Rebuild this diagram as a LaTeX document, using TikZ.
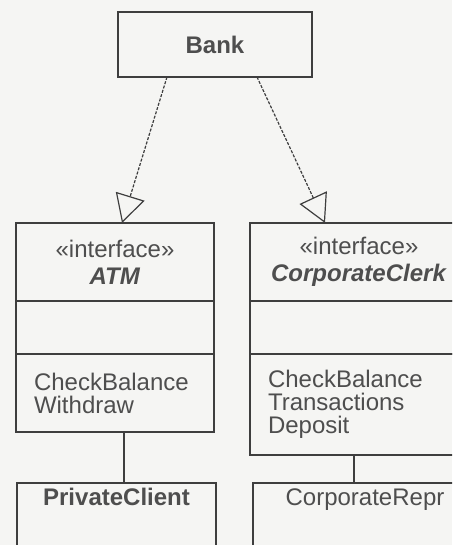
\documentclass[tikz,border=0pt]{standalone}
\usepackage{fontspec}
\setmainfont{Liberation Sans}
\usepackage{tikz}
\usetikzlibrary{arrows.meta,positioning}

\definecolor{paper}{RGB}{245,245,243}
\definecolor{ink}{RGB}{62,62,62}
\definecolor{txt}{RGB}{78,78,78}

\tikzset{
  classbox/.style={draw=ink, line width=1.3pt, rectangle, outer sep=0pt, inner sep=0pt,
    text=txt, font=\fontsize{24}{23}\selectfont},
  header/.style={classbox, minimum height=78pt, align=center,
    font=\fontsize{24}{27}\selectfont},
  attrs/.style={classbox, minimum height=53pt},
  ops/.style={classbox, align=left, inner xsep=18pt},
  realize/.style={draw=ink, line width=1.2pt, dash pattern=on 3pt off 1.5pt,
    -{Triangle[open, length=28pt, width=30pt, line width=1.2pt]}},
  assoc/.style={draw=ink, line width=1.3pt}
}

\begin{document}
\begin{tikzpicture}[x=1pt,y=-1pt]
  \fill[paper] (0,0) rectangle (452,545);
  \clip (0,0) rectangle (452,545);

  % supplier
  \node[classbox, minimum width=194pt, minimum height=65pt, font=\fontsize{24}{23}\selectfont\bfseries] (bank) at (215,44.5) {Bank};

  % interfaces
  \node[header, minimum width=198pt] (atm) at (115,262) {«interface»\\\textbf{\textit{ATM}}};
  \node[attrs, minimum width=198pt, below=0pt of atm] (atmAttr) {};
  \node[ops, text width=162pt, minimum height=78pt, below=0pt of atmAttr] (atmOps) {CheckBalance\\Withdraw};

  \node[header, minimum width=218pt] (clerk) at (359,262) {«interface»\\\textbf{\textit{CorporateClerk}}};
  \node[attrs, minimum width=218pt, below=0pt of clerk] (clerkAttr) {};
  \node[ops, text width=182pt, minimum height=101pt, below=0pt of clerkAttr] (clerkOps) {CheckBalance\\Transactions\\Deposit};

  % clients
  \node[classbox, anchor=north, minimum width=199pt, text height=22pt, text depth=60pt, font=\fontsize{24}{23}\selectfont\bfseries] (privClient) at (116.5,483) {PrivateClient};
  \node[classbox, anchor=north, minimum width=224pt, text height=22pt, text depth=60pt] (corpRepr) at (365,483) {CorporateRepr};

  \draw[realize] ([xshift=-48pt]bank.south) -- ([xshift=7pt]atm.north);
  \draw[realize] ([xshift=42pt]bank.south) -- ([xshift=-34pt]clerk.north);

  \draw[assoc] ([xshift=9pt]atmOps.south) -- ([xshift=9pt]atmOps.south |- privClient.north);
  \draw[assoc] ([xshift=-5pt]clerkOps.south) -- ([xshift=-5pt]clerkOps.south |- corpRepr.north);
\end{tikzpicture}
\end{document}
